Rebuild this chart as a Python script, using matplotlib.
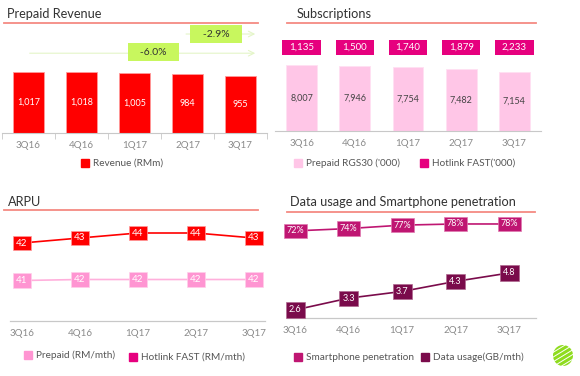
import numpy as np
import matplotlib
matplotlib.use("Agg")
import matplotlib.pyplot as plt
from matplotlib.lines import Line2D
from matplotlib.patches import Circle

plt.rcParams['font.family'] = ['Lato', 'DejaVu Sans']

quarters = ['3Q16', '4Q16', '1Q17', '2Q17', '3Q17']
revenue = [1017, 1018, 1005, 984, 955]
rgs30 = [8007, 7946, 7754, 7482, 7154]
hotlink_fast = [1135, 1500, 1740, 1879, 2233]
arpu_hotlink = [42, 43, 44, 44, 43]
arpu_prepaid = [41, 42, 42, 42, 42]
smartphone = [72, 74, 77, 78, 78]
data_usage = [2.6, 3.3, 3.7, 4.3, 4.8]

W, H = 580, 376
fig = plt.figure(figsize=(W / 100, H / 100), dpi=100)

RED = '#ff0000'
PINK_BAR = '#ffc6e7'
MAGENTA = '#e6007e'
ARPU_PINK = '#ff95d2'
ARPU_LINE = '#ffb0dc'
SMART = '#bf1672'
DATA = '#7a0b4b'
TITLE_LINE = '#f58a82'
GRAY = '#8a8a8a'
TXT = '#333333'


def px_ax(x0, y0, x1, y1):
    return fig.add_axes([x0 / W, 1 - y1 / H, (x1 - x0) / W, (y1 - y0) / H])


def title(x, y, s, lx0, lx1, ly):
    fig.text(x / W, 1 - y / H, s, fontsize=9.2, color=TXT, va='center', ha='left')
    fig.add_artist(Line2D([lx0 / W, lx1 / W], [1 - ly / H, 1 - ly / H],
                          color=TITLE_LINE, lw=1.3))


def legend_item(x, y, color, s):
    fig.add_artist(Line2D([x / W], [1 - y / H], marker='s', markersize=5.5,
                          color=color, linestyle='none'))
    fig.text((x + 8) / W, 1 - y / H, s, fontsize=7.2, color='#555555',
             va='center', ha='left')


def clean(ax, color='#c8c8c8'):
    for s in ['top', 'right', 'left']:
        ax.spines[s].set_visible(False)
    ax.spines['bottom'].set_color(color)
    ax.set_yticks([])
    ax.tick_params(axis='x', length=0, labelsize=7, labelcolor=GRAY, pad=6)
    ax.patch.set_alpha(0)


x = np.arange(len(quarters))

# ---- Prepaid Revenue
title(7, 14, 'Prepaid Revenue', 4, 258, 23)
ax1 = px_ax(2, 27, 267, 133)
ax1.bar(x, revenue, width=0.58, color=RED, edgecolor='#ff9a9a', linewidth=0.6)
for i, v in enumerate(revenue):
    ax1.text(i, v / 2, f'{v:,}', ha='center', va='center', color='white', fontsize=6.5)
ax1.set_xlim(-0.5, 4.5)
ax1.set_ylim(0, 1767)
clean(ax1)
ax1.set_xticks(x)
ax1.set_xticklabels(quarters)
ax1.set_xticks(np.arange(-0.5, 5, 1), minor=True)
ax1.tick_params(axis='x', which='minor', length=4, color='#c8c8c8')
ax1.annotate('', xy=(4.33, 1650), xytext=(2.92, 1650),
             arrowprops=dict(arrowstyle='->', color='#e4f5c8', lw=0.8), annotation_clip=False)
ax1.annotate('', xy=(4.33, 1330), xytext=(-0.03, 1330),
             arrowprops=dict(arrowstyle='->', color='#e4f5c8', lw=0.8), annotation_clip=False)
ax1.text(3.54, 1650, '   -2.9%   ', ha='center', va='center', fontsize=7.5, color=TXT,
         bbox=dict(boxstyle='square,pad=0.45', fc='#c8f75e', ec='none'))
ax1.text(2.36, 1350, '   -6.0%   ', ha='center', va='center', fontsize=7.5, color=TXT,
         bbox=dict(boxstyle='square,pad=0.45', fc='#c8f75e', ec='none'))
legend_item(85, 163, RED, 'Revenue (RMm)')

# ---- Subscriptions
title(297, 14, 'Subscriptions', 287, 536, 23)
ax2 = px_ax(275, 25, 541, 131)
ax2.bar(x, rgs30, width=0.58, color=PINK_BAR, edgecolor='#ffe0f2', linewidth=0.6)
for i, v in enumerate(rgs30):
    ax2.text(i, v / 2, f'{v:,}', ha='center', va='center', color='#444444', fontsize=6.5)
box_y = 10130
for i, v in enumerate(hotlink_fast):
    ax2.bar(i, 1800, bottom=box_y - 900, width=0.72, color=MAGENTA)
    ax2.text(i, box_y, f'{v:,}', ha='center', va='center', color='white', fontsize=7)
ax2.set_xlim(-0.5, 4.5)
ax2.set_ylim(0, 12860)
clean(ax2)
ax2.set_xticks(x)
ax2.set_xticklabels(quarters)
legend_item(298, 163, PINK_BAR, "Prepaid RGS30 ('000)")
legend_item(424, 163, MAGENTA, "Hotlink FAST('000)")

# ---- ARPU
title(8, 202, 'ARPU', 4, 258, 210)
ax3 = px_ax(10, 215, 265, 321)
ax3b = ax3.twinx()
xl = (-0.207, 4.19)
ax3.plot(x, arpu_hotlink, color=RED, lw=1.2, zorder=2)
for i, v in enumerate(arpu_hotlink):
    ax3.text(i, v, str(v), ha='center', va='center', color='white', fontsize=7, zorder=3,
             bbox=dict(boxstyle='square,pad=0.3', fc=RED, ec='#ff9a9a', lw=0.5))
ax3b.plot(x, arpu_prepaid, color=ARPU_LINE, lw=1.2, zorder=2)
for i, v in enumerate(arpu_prepaid):
    ax3b.text(i, v, str(v), ha='center', va='center', color='white', fontsize=7, zorder=3,
              bbox=dict(boxstyle='square,pad=0.3', fc=ARPU_PINK, ec='#ffd0ea', lw=0.5))
ax3.set_ylim(26.4, 47.6)
ax3b.set_ylim(0.5, 106.5)
for a in (ax3, ax3b):
    a.set_xlim(*xl)
    clean(a)
ax3.set_xticks(x)
ax3.set_xticklabels(quarters)
legend_item(28, 355, ARPU_PINK, 'Prepaid (RM/mth)')
legend_item(133, 357, MAGENTA, 'Hotlink FAST (RM/mth)')

# ---- Data usage and Smartphone penetration
title(290, 202, 'Data usage and Smartphone penetration', 287, 535, 212)
ax4 = px_ax(287, 215, 536, 318)
ax4b = ax4.twinx()
ax4.plot(x, smartphone, color=SMART, lw=1.2)
for i, v in enumerate(smartphone):
    ax4.text(i, v, f'{v}%', ha='center', va='center', color='white', fontsize=6.5, zorder=3,
             bbox=dict(boxstyle='square,pad=0.3', fc=SMART, ec='#e07ab0', lw=0.5))
ax4b.plot(x, data_usage, color=DATA, lw=1.2)
for i, v in enumerate(data_usage):
    ax4b.text(i, v, f'{v}', ha='center', va='center', color='white', fontsize=6.5, zorder=3,
              bbox=dict(boxstyle='square,pad=0.35', fc=DATA, ec='#b06a90', lw=0.5))
ax4.set_ylim(-3.7, 85.8)
ax4b.set_ylim(2.12, 8.25)
for a in (ax4, ax4b):
    a.set_xlim(-0.15, 4.5)
    clean(a)
ax4.set_xticks(x)
ax4.set_xticklabels(quarters)
legend_item(298, 357, SMART, 'Smartphone penetration')
legend_item(425, 357, DATA, 'Data usage(GB/mth)')

# ---- logo
logo_ax = px_ax(553, 345, 573, 366)
logo_ax.set_xlim(-1, 1)
logo_ax.set_ylim(-1, 1)
logo_ax.axis('off')
circ = Circle((0, 0), 1, transform=logo_ax.transData)
for k in np.arange(-1.6, 1.7, 0.45):
    ln, = logo_ax.plot([-1.2, 1.2], [k - 0.7, k + 0.7], color='#8fdc1e', lw=2.2,
                       solid_capstyle='butt')
    ln.set_clip_path(circ)

fig.savefig('out.png', dpi=100)
